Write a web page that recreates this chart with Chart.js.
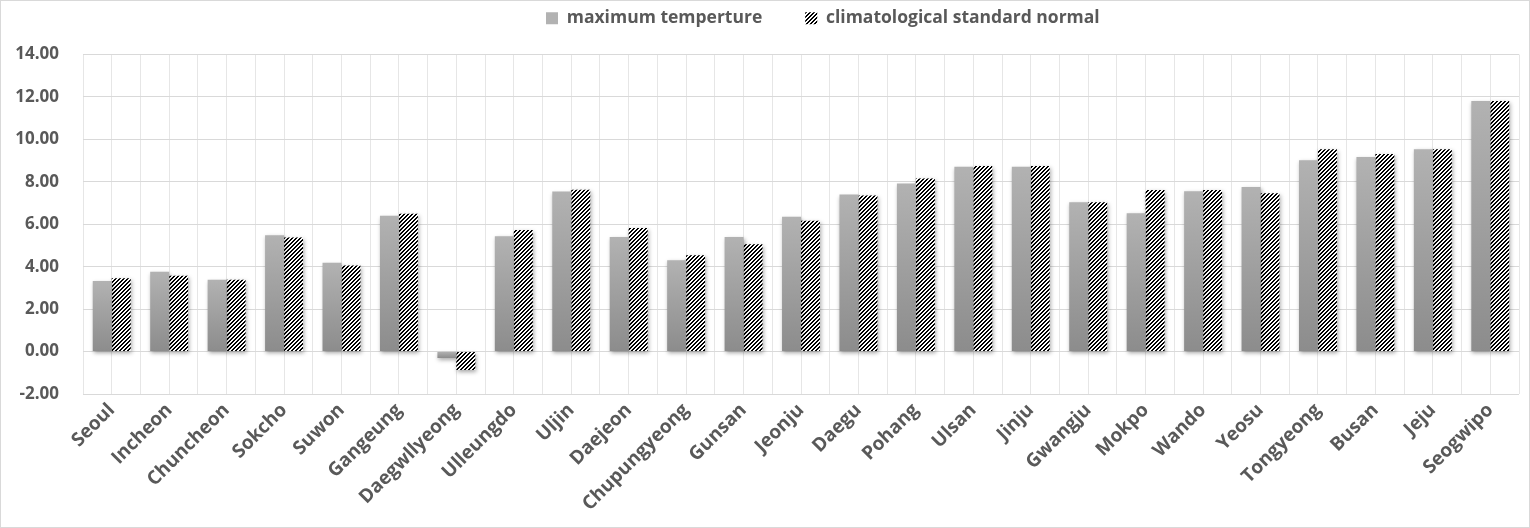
<!DOCTYPE html>
<html>
<head>
<meta charset="utf-8">
<script src="https://cdn.jsdelivr.net/npm/chart.js@4.4.1/dist/chart.umd.min.js"></script>
<style>
  html, body { margin: 0; padding: 0; background: #fff; }
  #wrap { width: 1530px; height: 528px; box-sizing: border-box; border: 1px solid #d9d9d9; }
  canvas { display: block; }
</style>
</head>
<body>
<div id="wrap"><canvas id="chart" width="1528" height="526"></canvas></div>
<script>
// stations, west/north first as in the original figure
const stations = ['Seoul', 'Incheon', 'Chuncheon', 'Sokcho', 'Suwon', 'Gangeung', 'Daegwllyeong',
  'Ulleungdo', 'Uljin', 'Daejeon', 'Chupungyeong', 'Gunsan', 'Jeonju', 'Daegu', 'Pohang', 'Ulsan',
  'Jinju', 'Gwangju', 'Mokpo', 'Wando', 'Yeosu', 'Tongyeong', 'Busan', 'Jeju', 'Seogwipo'];

const maxTemp = [3.33, 3.76, 3.38, 5.48, 4.19, 6.40, -0.30, 5.44, 7.54, 5.40, 4.30, 5.40, 6.35,
  7.40, 7.92, 8.71, 8.71, 7.04, 6.52, 7.56, 7.75, 9.02, 9.17, 9.54, 11.81];

const normalTemp = [3.46, 3.57, 3.38, 5.38, 4.06, 6.49, -0.87, 5.73, 7.63, 5.82, 4.54, 5.06, 6.16,
  7.35, 8.16, 8.75, 8.75, 7.04, 7.61, 7.61, 7.46, 9.54, 9.31, 9.54, 11.81];

const yMin = -2;
const yMax = 14;
const yStep = 2;

const textColor = '#595959';
const fontFamily = "'Open Sans', 'Noto Sans', sans-serif";
const legendGap = 43;

// black "/" hatch on white, like Excel's upward diagonal pattern
function makeHatch() {
  const c = document.createElement('canvas');
  c.width = 4; c.height = 4;
  const g = c.getContext('2d');
  g.fillStyle = '#fff';
  g.fillRect(0, 0, 4, 4);
  g.fillStyle = '#000';
  for (let y = 0; y < 4; y++) {
    g.fillRect((3 - y + 4) % 4, y, 1, 1);
    g.fillRect((4 - y) % 4, y, 1, 1);
  }
  return g.createPattern(c, 'repeat');
}
const hatch = makeHatch();

// grey bars fade from light at the top to darker at the base
function grayFill(ctx) {
  if (ctx.type !== 'data') return '#a6a6a6';
  const chart = ctx.chart;
  const y = chart.scales.y;
  if (!y) return '#a6a6a6';
  const p = y.getPixelForValue(ctx.raw);
  const b = y.getPixelForValue(0);
  const top = Math.min(p, b), bot = Math.max(p, b);
  if (!isFinite(top) || bot - top < 1) return '#a6a6a6';
  const grad = chart.ctx.createLinearGradient(0, top, 0, bot);
  grad.addColorStop(0, '#b2b2b2');
  grad.addColorStop(1, '#8c8c8c');
  return grad;
}

const barShadow = {
  id: 'barShadow',
  beforeDatasetsDraw(chart) {
    const c = chart.ctx;
    c.save();
    c.shadowColor = 'rgba(0,0,0,0.35)';
    c.shadowBlur = 4;
    c.shadowOffsetX = 1;
    c.shadowOffsetY = 2;
  },
  afterDatasetsDraw(chart) {
    chart.ctx.restore();
  }
};

// keep the legend short so the plot starts where it does in the original,
// and sit it a bit right of centre like Excel did
const legendPlace = {
  id: 'legendPlace',
  beforeLayout(chart) {
    const lg = chart.legend;
    if (lg && !lg._patched) {
      const fit = lg.fit;
      lg.fit = function () { fit.call(this); this.height = 53.5; };
      lg._patched = true;
    }
  },
  afterLayout(chart) {
    const lg = chart.legend;
    if (!lg) return;
    lg.top = 8.5 - legendGap;
    lg.left = 545 - legendGap;
  }
};

new Chart(document.getElementById('chart'), {
  type: 'bar',
  data: {
    labels: stations,
    datasets: [
      {
        label: 'maximum temperture',
        data: maxTemp,
        backgroundColor: grayFill,
        borderWidth: 0,
        categoryPercentage: 0.66,
        barPercentage: 1.0
      },
      {
        label: 'climatological standard normal',
        data: normalTemp,
        backgroundColor: hatch,
        borderWidth: 0,
        categoryPercentage: 0.66,
        barPercentage: 1.0
      }
    ]
  },
  options: {
    responsive: false,
    animation: false,
    layout: { padding: { top: 0, right: 10, left: 0, bottom: 0 } },
    plugins: {
      tooltip: { enabled: false },
      legend: {
        position: 'top',
        align: 'start',
        labels: {
          color: textColor,
          font: { family: fontFamily, size: 17.5, weight: 'bold' },
          boxWidth: 12,
          boxHeight: 12,
          padding: legendGap
        }
      }
    },
    scales: {
      x: {
        position: 'bottom',
        grid: { color: '#e6e6e6', offset: true, drawTicks: false },
        border: { display: false },
        ticks: {
          color: textColor,
          font: { family: fontFamily, size: 19, weight: 'bold' },
          maxRotation: 45,
          minRotation: 45,
          padding: 5,
          autoSkip: false
        },
        afterFit(scale) { scale.height = 133; }
      },
      xMid: {
        type: 'category',
        labels: stations,
        position: 'top',
        offset: true,
        grid: { color: '#e6e6e6', offset: false, drawTicks: false },
        border: { display: false },
        ticks: { display: false },
        afterFit(scale) { scale.height = 0; }
      },
      y: {
        min: yMin,
        max: yMax,
        grid: { color: '#d9d9d9', drawTicks: false },
        border: { display: false },
        ticks: {
          stepSize: yStep,
          color: textColor,
          font: { family: fontFamily, size: 17, weight: 'bold' },
          padding: 24,
          callback: v => Number(v).toFixed(2)
        },
        afterFit(scale) { scale.width = 82; }
      }
    }
  },
  plugins: [barShadow, legendPlace]
});
</script>
</body>
</html>
